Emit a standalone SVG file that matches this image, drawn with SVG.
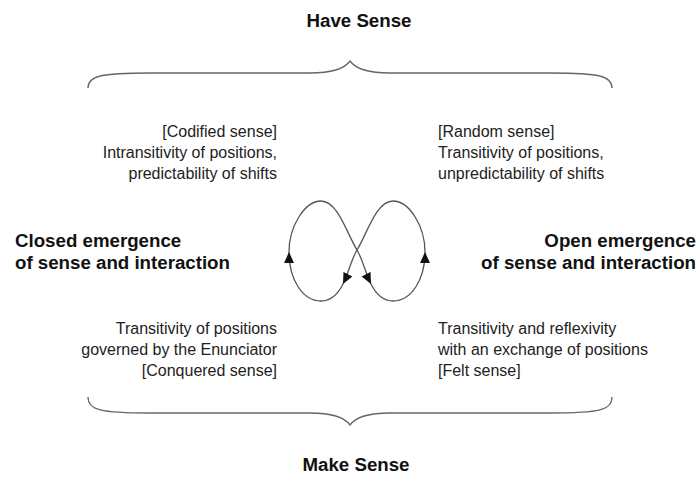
<svg xmlns="http://www.w3.org/2000/svg" width="700" height="477" viewBox="0 0 700 477">
  <style>
    .title { font-family: "Liberation Sans", Arial, sans-serif; font-weight: bold; font-size: 18.7px; fill: #111; }
    .body { font-family: "Liberation Sans", Arial, sans-serif; font-size: 16px; fill: #222; }
    .brace { fill: none; stroke: #666; stroke-width: 1.3; }
    .loop { fill: none; stroke: #555; stroke-width: 1.3; }
  </style>
  <defs>
    <marker id="arrow" viewBox="0 0 10 10" refX="10" refY="5" markerWidth="11" markerHeight="11" markerUnits="userSpaceOnUse" orient="auto">
      <path d="M0,0.5 L10,5 L0,9.5 z" fill="#111"/>
    </marker>
  </defs>
  <rect width="700" height="477" fill="#fff"/>

  <g id="have-sense">
    <text class="title" x="359" y="27" text-anchor="middle">Have Sense</text>
  </g>
  <g id="make-sense">
    <text class="title" x="356" y="471" text-anchor="middle">Make Sense</text>
  </g>

  <g id="braces">
    <path class="brace" d="M88,88 C88,76 100,73 150,73 L310,73 C335,73 345,68 350,61 C355,68 365,73 390,73 L550,73 C600,73 612,76 612,88"/>
    <path class="brace" d="M88,397 C88,410 100,413 150,413 L310,413 C335,413 345,418 350,425 C355,418 365,413 390,413 L550,413 C600,413 612,410 612,397"/>
  </g>

  <g id="codified">
    <text class="body" x="277" y="137" text-anchor="end">[Codified sense]</text>
    <text class="body" x="277" y="158" text-anchor="end">Intransitivity of positions,</text>
    <text class="body" x="277" y="179" text-anchor="end">predictability of shifts</text>
  </g>
  <g id="random">
    <text class="body" x="438" y="137">[Random sense]</text>
    <text class="body" x="438" y="158">Transitivity of positions,</text>
    <text class="body" x="438" y="179">unpredictability of shifts</text>
  </g>
  <g id="conquered">
    <text class="body" x="277" y="334" text-anchor="end">Transitivity of positions</text>
    <text class="body" x="277" y="355" text-anchor="end">governed by the Enunciator</text>
    <text class="body" x="277" y="376" text-anchor="end">[Conquered sense]</text>
  </g>
  <g id="felt">
    <text class="body" x="438" y="334">Transitivity and reflexivity</text>
    <text class="body" x="438" y="355">with an exchange of positions</text>
    <text class="body" x="438" y="376">[Felt sense]</text>
  </g>

  <g id="closed">
    <text class="title" x="15" y="247">Closed emergence</text>
    <text class="title" x="15" y="269">of sense and interaction</text>
  </g>
  <g id="open">
    <text class="title" x="696" y="247" text-anchor="end">Open emergence</text>
    <text class="title" x="696" y="269" text-anchor="end">of sense and interaction</text>
  </g>

  <g id="connectors">
    <path class="loop" marker-end="url(#arrow)" d="M289,252 C289,226 305,201 321,201 C338,201 347,234 357,250 C362,258 366,274 371,284"/>
    <path class="loop" marker-end="url(#arrow)" d="M371,284 C376,294 383,301 393,301 C411,301 425,280 425,252"/>
    <path class="loop" marker-end="url(#arrow)" d="M425,252 C425,226 409,201 393,201 C376,201 367,234 357,250 C352,258 348,274 343,284"/>
    <path class="loop" marker-end="url(#arrow)" d="M343,284 C338,294 331,301 321,301 C303,301 289,280 289,252"/>
  </g>
</svg>
